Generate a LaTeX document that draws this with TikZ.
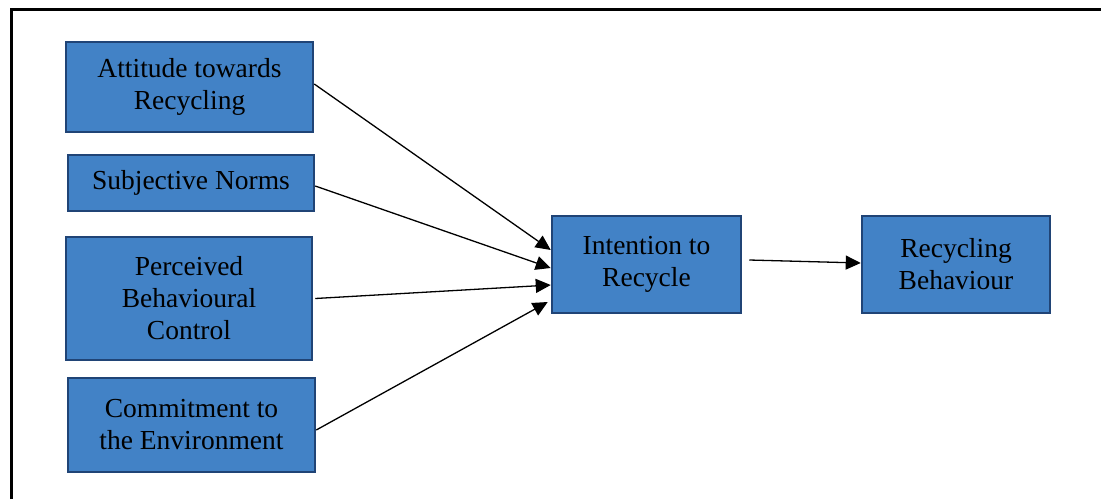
\documentclass[tikz,border=0pt]{standalone}
\usepackage{fontspec}
\setmainfont{Liberation Serif}
\usetikzlibrary{arrows.meta}
\definecolor{boxfill}{RGB}{66,130,198}
\definecolor{boxline}{RGB}{32,68,118}
\begin{document}
\begin{tikzpicture}[x=1pt,y=-1pt,
  box/.style={draw=boxline,fill=boxfill,line width=2.5pt,align=center,
    font=\fontsize{27.5}{32}\selectfont,inner sep=0pt},
  conn/.style={line width=1.3pt,-{Triangle[length=15pt,width=14pt]}}]
\useasboundingbox (0,0) rectangle (1101,499);
\draw[line width=3pt] (11,499) -- (11,9.5) -- (1101,9.5);
\node[box,minimum width=247pt,minimum height=90pt] (att) at (189.5,87) {Attitude towards\\Recycling};
\node[box,minimum width=246pt,minimum height=56pt] (sub) at (191,183) {Subjective Norms};
\node[box,minimum width=246pt,minimum height=123pt] (per) at (189,298.5) {Perceived\\Behavioural\\Control};
\node[box,minimum width=247pt,minimum height=94pt] (com) at (191.5,425) {Commitment to\\the Environment};
\node[box,minimum width=189pt,minimum height=97pt] (int) at (646.5,264.5) {Intention to\\Recycle};
\node[box,minimum width=188pt,minimum height=97pt] (beh) at (956,264.5) {Recycling\\Behaviour};
\draw[conn] ([yshift=3pt]att.east) -- ([yshift=14.5pt]int.west);
\draw[conn] ([yshift=-3pt]sub.east) -- ([yshift=-3.5pt]int.west);
\draw[conn] ([xshift=2pt]per.east) -- ([yshift=-20.5pt]int.west);
\draw[conn] ([yshift=-5pt]com.east) -- ([xshift=-3pt,yshift=-37.5pt]int.west);
\draw[conn] ([xshift=7pt,yshift=4.5pt]int.east) -- ([yshift=1.5pt]beh.west);
\end{tikzpicture}
\end{document}
